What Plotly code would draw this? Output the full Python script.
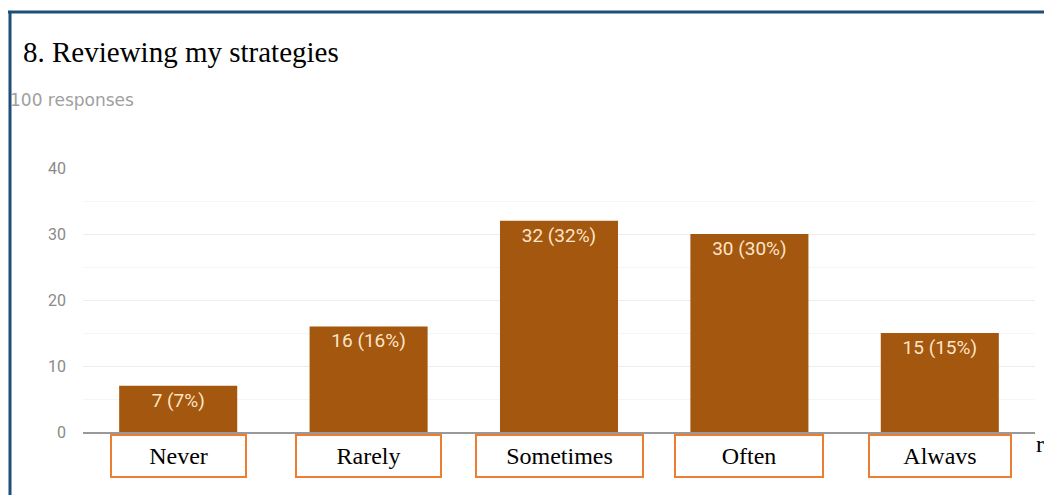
import plotly.graph_objects as go

# data
categories = ["Never", "Rarely", "Sometimes", "Often", "Always"]
box_labels = ["Never", "Rarely", "Sometimes", "Often", "Alwavs"]
counts = [7, 16, 32, 30, 15]
total = 100
y_ticks = [0, 10, 20, 30, 40]

# the page body has an 8px margin, so the figure is drawn 8px in
OFF = 8
W, H = 1052 - OFF, 495 - OFF
L, R, T, B = 83 - OFF, 17, 168 - OFF, 63
pw, ph = W - L - R, H - T - B


def px_x(p):
    return (p - OFF - L) / pw


def px_y(p):
    return (H - B - (p - OFF)) / ph


bar_text = [f"{c} ({round(c / total * 100)}%)" for c in counts]

fig = go.Figure(go.Bar(
    x=categories, y=counts, text=bar_text,
    textposition="inside", insidetextanchor="end",
    textfont=dict(family="Roboto, Arial", size=19, color="#FCE5C8"),
    marker=dict(color="#A4570E", line_width=0),
    width=0.62,
))

fig.update_layout(
    width=W, height=H,
    margin=dict(l=L, r=R, t=T, b=B),
    paper_bgcolor="white", plot_bgcolor="white",
    showlegend=False,
    uniformtext=dict(minsize=10, mode="show"),
    font=dict(family="Roboto, Arial", color="#777"),
)
fig.update_yaxes(range=[0, 40], tickvals=y_ticks, showgrid=True,
                 gridcolor="#EDEDED", zeroline=False,
                 tickfont=dict(size=16, color="#8A8A8A"), ticks="",
                 ticklabelstandoff=16,
                 minor=dict(dtick=5, showgrid=True, gridcolor="#F5F5F5"))
fig.update_xaxes(showticklabels=False, showline=True, linecolor="#999",
                 linewidth=2, showgrid=False)

# blue frame
fig.add_shape(type="line", xref="paper", yref="paper",
              x0=px_x(8), x1=px_x(1060), y0=px_y(12), y1=px_y(12),
              line=dict(color="#1F4E79", width=3))
fig.add_shape(type="line", xref="paper", yref="paper",
              x0=px_x(10), x1=px_x(10), y0=px_y(11), y1=px_y(500),
              line=dict(color="#1F4E79", width=3))

# title and subtitle
fig.add_annotation(text="8. Reviewing my strategies", xref="paper", yref="paper",
                   x=px_x(21), y=px_y(52), xanchor="left", yanchor="middle",
                   showarrow=False,
                   font=dict(family="Liberation Serif, Times New Roman", size=29, color="black"))
fig.add_annotation(text="100 responses", xref="paper", yref="paper",
                   x=px_x(8), y=px_y(100), xanchor="left", yanchor="middle",
                   showarrow=False,
                   font=dict(family="DejaVu Sans", size=17, color="#A0A0A0"))

# boxed category labels
box_widths = [133, 143, 165, 146, 140]
for cat, lab, bw in zip(categories, box_labels, box_widths):
    fig.add_annotation(text=lab, x=cat, xref="x", yref="paper",
                       y=px_y(456), yanchor="middle", showarrow=False,
                       width=bw, height=40,
                       bordercolor="#ED7D31", borderwidth=2, borderpad=0,
                       bgcolor="white",
                       font=dict(family="Liberation Serif, Times New Roman", size=24, color="black"))

# text cut by the right edge of the page
fig.add_annotation(text="ru", xref="paper", yref="paper",
                   x=px_x(1034), y=px_y(444), xanchor="left", yanchor="middle",
                   showarrow=False,
                   font=dict(family="Liberation Serif, Times New Roman", size=24, color="black"))

fig.write_html("out.html")
